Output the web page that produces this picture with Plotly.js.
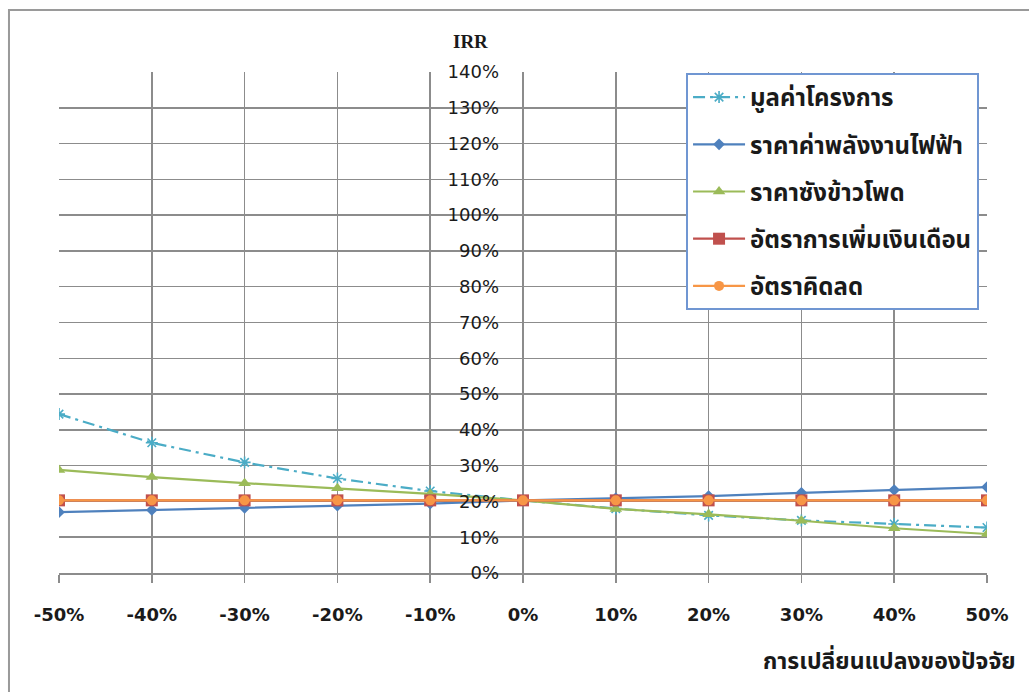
<!DOCTYPE html>
<html>
<head>
<meta charset="utf-8">
<script src="https://cdn.plot.ly/plotly-3.0.1.min.js"></script>
<style>
  html, body { margin: 0; padding: 0; background: #ffffff; }
  #chart { width: 1029px; height: 692px; }
</style>
</head>
<body>
<div id="chart"></div>
<script>
// Change in each factor (x) and resulting IRR for each sensitivity case
const factorChange = [-0.5, -0.4, -0.3, -0.2, -0.1, 0, 0.1, 0.2, 0.3, 0.4, 0.5];
const factorLabels = ['-50%', '-40%', '-30%', '-20%', '-10%', '0%', '10%', '20%', '30%', '40%', '50%'];

const seriesNames = ['มูลค่าโครงการ', 'ราคาค่าพลังงานไฟฟ้า', 'ราคาซังข้าวโพด', 'อัตราการเพิ่มเงินเดือน', 'อัตราคิดลด'];

const irrProjectValue = [0.444, 0.364, 0.309, 0.264, 0.229, 0.203, 0.180, 0.161, 0.147, 0.137, 0.127];
const irrElectricity  = [0.170, 0.176, 0.182, 0.188, 0.194, 0.203, 0.209, 0.215, 0.224, 0.232, 0.240];
const irrCornStover   = [0.288, 0.268, 0.251, 0.237, 0.221, 0.203, 0.179, 0.164, 0.146, 0.125, 0.109];
const irrSalaryRate   = [0.203, 0.203, 0.203, 0.203, 0.203, 0.203, 0.203, 0.203, 0.203, 0.203, 0.203];
const irrDiscountRate = [0.203, 0.203, 0.203, 0.203, 0.203, 0.203, 0.203, 0.203, 0.203, 0.203, 0.203];

const thaiFont = "Tahoma, 'Noto Sans Thai', 'Loma', 'Garuda', 'DejaVu Sans', sans-serif";

function series(name, y, color, symbol, size, dash, group) {
  return {
    type: 'scatter', mode: 'lines+markers', name: name, x: factorChange, y: y,
    legendgroup: group,
    line: { color: color, width: 2.2, dash: dash || 'solid' },
    marker: { symbol: symbol, size: size, color: color, line: { color: color, width: symbol === 'asterisk-open' ? 1.6 : 0 } }
  };
}

const traces = [
  series(seriesNames[0], irrProjectValue, '#4bacc6', 'asterisk-open', 10, '12px,5px,3px,5px', 'g1'),
  series(seriesNames[1], irrElectricity, '#4f81bd', 'diamond', 9, null, 'g2'),
  series(seriesNames[2], irrCornStover, '#9bbb59', 'triangle-up', 11, null, 'g3'),
  series(seriesNames[3], irrSalaryRate, '#c0504d', 'square', 12, null, 'g4'),
  series(seriesNames[4], irrDiscountRate, '#f79646', 'circle', 10, null, 'g5')
];

const gridColor = '#8c8c8c';

const layout = {
  width: 1029, height: 692,
  margin: { l: 59, r: 42, t: 72, b: 119 },
  paper_bgcolor: '#ffffff', plot_bgcolor: '#ffffff',
  showlegend: true,
  xaxis: {
    range: [-0.5, 0.5], tickvals: factorChange, ticktext: factorLabels,
    showgrid: true, gridcolor: gridColor, gridwidth: 1.5, zeroline: false,
    showline: true, linecolor: gridColor, linewidth: 1.5,
    ticks: 'outside', ticklen: 8, tickcolor: gridColor, tickwidth: 1.5,
    ticklabelstandoff: 17,
    tickfont: { family: "'DejaVu Sans', sans-serif", size: 18, color: '#1a1a1a', weight: 'bold' }
  },
  yaxis: {
    range: [0, 1.4], dtick: 0.1, tickformat: '.0%',
    anchor: 'free', position: 0.5,
    showgrid: true, gridcolor: gridColor, gridwidth: 1.5, zeroline: false,
    showline: false, ticks: '', ticklabelstandoff: 24,
    tickfont: { family: "'DejaVu Sans', sans-serif", size: 18, color: '#1a1a1a' }
  },
  legend: {
    x: 0.6757, y: 0.998, xanchor: 'left', yanchor: 'top',
    bgcolor: '#ffffff', bordercolor: '#7096d2', borderwidth: 2,
    traceorder: 'grouped', tracegroupgap: 13, itemwidth: 52,
    font: { family: thaiFont, size: 24, color: '#1a1a1a', weight: 'bold' }
  },
  annotations: [
    { text: 'IRR', xref: 'paper', yref: 'paper', x: 0.4429, y: 1.0599,
      xanchor: 'center', yanchor: 'middle', showarrow: false,
      font: { family: "'Liberation Serif', 'DejaVu Serif', serif", size: 19, color: '#1a1a1a', weight: 'bold' } },
    { text: 'การเปลี่ยนแปลงของปัจจัย', xref: 'paper', yref: 'paper', x: 1.0334, y: -0.1776,
      xanchor: 'right', yanchor: 'middle', showarrow: false,
      font: { family: thaiFont, size: 23, color: '#1a1a1a', weight: 'bold' } }
  ],
  shapes: [
    { type: 'rect', xref: 'paper', yref: 'paper', x0: -0.0539, x1: 1.3, y0: -0.4, y1: 1.1238,
      line: { color: '#9a9a9a', width: 2 }, layer: 'below' }
  ]
};

Plotly.newPlot('chart', traces, layout, { displayModeBar: false, staticPlot: true });
</script>
</body>
</html>
